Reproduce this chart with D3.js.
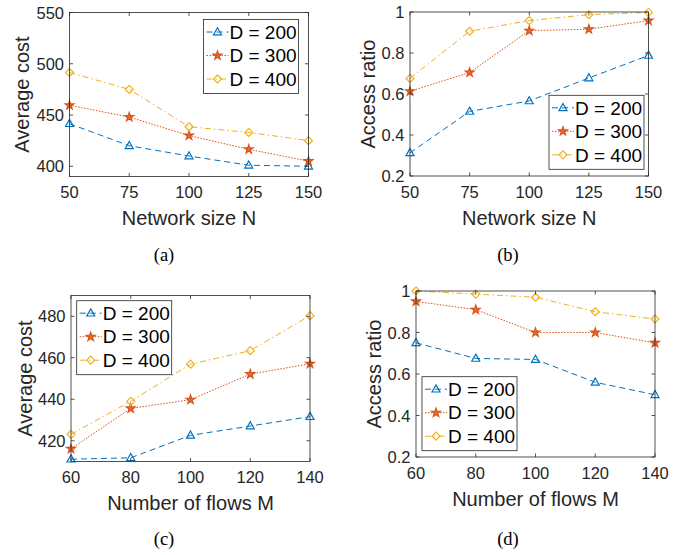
<!DOCTYPE html>
<html>
<head>
<meta charset="utf-8">
<script src="https://cdn.jsdelivr.net/npm/d3@7"></script>
<style>
  body { margin: 0; background: #fff; }
  svg { display: block; }
  .tick-label { font-family: "Liberation Sans", Arial, sans-serif; font-size: 16.5px; fill: #262626; }
  .axis-label { font-family: "Liberation Sans", Arial, sans-serif; font-size: 20px; fill: #262626; }
  .legend-text { font-family: "Liberation Sans", Arial, sans-serif; font-size: 19px; fill: #000; }
  .caption { font-family: "Liberation Serif", "Times New Roman", serif; font-size: 18.5px; fill: #000; }
</style>
</head>
<body>
<svg id="chart" width="686" height="555"></svg>
<script>
// ---- data ----
const networkSizes = [50, 75, 100, 125, 150];
const flowCounts = [60, 80, 100, 120, 140];
const seriesNames = ['D = 200', 'D = 300', 'D = 400'];

// (a) average cost vs network size
const costN_D200 = [441.5, 420, 410, 401, 400];
const costN_D300 = [459.5, 448, 430, 416.5, 405];
const costN_D400 = [491.5, 475, 438.5, 433, 425];

// (b) access ratio vs network size
const ratioN_D200 = [0.313, 0.515, 0.566, 0.678, 0.788];
const ratioN_D300 = [0.613, 0.705, 0.909, 0.916, 0.958];
const ratioN_D400 = [0.676, 0.906, 0.958, 0.987, 0.998];

// (c) average cost vs number of flows
const costM_D200 = [411.1, 411.8, 422.6, 427.1, 431.6];
const costM_D300 = [416.1, 435.6, 439.8, 452.1, 457.1];
const costM_D400 = [423.1, 439.0, 456.9, 463.4, 480.3];

// (d) access ratio vs number of flows
const ratioM_D200 = [0.75, 0.675, 0.67, 0.56, 0.50];
const ratioM_D300 = [0.95, 0.91, 0.80, 0.80, 0.75];
const ratioM_D400 = [1.0, 0.985, 0.97, 0.90, 0.865];

const costTicksN = [400, 450, 500, 550];
const costTicksM = [420, 440, 460, 480];
const ratioTicks = [0.2, 0.4, 0.6, 0.8, 1];

// MATLAB default colours and line styles
const colors = ['#0072BD', '#D95319', '#EDB120'];
const dashes = ['6,4', '1.5,1.5', '6,3,1.5,3'];
const markers = ['triangle', 'star', 'diamond'];

const panels = [
  { box: [69.5, 12.5, 308.5, 176.5], x: networkSizes, xDomain: [50, 150], yDomain: [390, 550],
    yTicks: costTicksN, yFmt: d3.format('d'), series: [costN_D200, costN_D300, costN_D400],
    xLabel: 'Network size N', yLabel: 'Average cost', yLabelOff: 48,
    legend: { corner: 'ne', dx: 10, dy: 7 }, caption: '(a)', capX: 164, capY: 261 },
  { box: [410, 12, 648.5, 176], x: networkSizes, xDomain: [50, 150], yDomain: [0.2, 1],
    yTicks: ratioTicks, yFmt: d => d === 1 ? '1' : d3.format('.1f')(d), series: [ratioN_D200, ratioN_D300, ratioN_D400],
    xLabel: 'Network size N', yLabel: 'Access ratio', yLabelOff: 42.5,
    legend: { corner: 'se', dx: 4.5, dy: 6.7 }, caption: '(b)', capX: 508, capY: 261 },
  { box: [71, 295.5, 310, 461.5], x: flowCounts, xDomain: [60, 140], yDomain: [410, 490],
    yTicks: costTicksM, yFmt: d3.format('d'), series: [costM_D200, costM_D300, costM_D400],
    xLabel: 'Number of flows M', yLabel: 'Average cost', yLabelOff: 46,
    legend: { corner: 'nw', dx: 5.7, dy: 5.2 }, caption: '(c)', capX: 164, capY: 545 },
  { box: [416, 291, 655, 457], x: flowCounts, xDomain: [60, 140], yDomain: [0.2, 1],
    yTicks: ratioTicks, yFmt: d => d === 1 ? '1' : d3.format('.1f')(d), series: [ratioM_D200, ratioM_D300, ratioM_D400],
    xLabel: 'Number of flows M', yLabel: 'Access ratio', yLabelOff: 42.5,
    legend: { corner: 'sw', dx: 6, dy: 6.3 }, caption: '(d)', capX: 508, capY: 545 }
];

const svg = d3.select('#chart');
const AXIS = '#262626';
const TICK = 3.5;

function markerPath(type) {
  if (type === 'triangle') return 'M0,-4.3L4,2.8L-4,2.8Z';
  if (type === 'diamond') return 'M0,-4L4,0L0,4L-4,0Z';
  return d3.symbol(d3.symbolStar, 24)();
}

function drawMarker(g, type, color) {
  const p = g.append('path').attr('d', markerPath(type))
    .attr('stroke', color).attr('stroke-width', 1.2);
  if (type === 'star') p.attr('fill', color).attr('fill-opacity', 0.8);
  else p.attr('fill', 'none');
  return p;
}

panels.forEach(p => {
  const [x0, y0, x1, y1] = p.box;
  const x = d3.scaleLinear().domain(p.xDomain).range([x0, x1]);
  const y = d3.scaleLinear().domain(p.yDomain).range([y1, y0]);
  const g = svg.append('g');

  // series lines + markers
  p.series.forEach((vals, i) => {
    const pts = vals.map((v, j) => [x(p.x[j]), y(v)]);
    g.append('path')
      .attr('d', d3.line()(pts))
      .attr('fill', 'none')
      .attr('stroke', colors[i])
      .attr('stroke-width', 1)
      .attr('stroke-dasharray', dashes[i]);
    pts.forEach(pt => {
      const m = g.append('g').attr('transform', `translate(${pt[0]},${pt[1]})`);
      drawMarker(m, markers[i], colors[i]);
    });
  });

  // box
  g.append('rect')
    .attr('x', x0).attr('y', y0).attr('width', x1 - x0).attr('height', y1 - y0)
    .attr('fill', 'none').attr('stroke', AXIS).attr('stroke-width', 0.8);

  // x ticks (inside, bottom and top)
  p.x.forEach(v => {
    const xx = x(v);
    g.append('line').attr('x1', xx).attr('x2', xx).attr('y1', y1).attr('y2', y1 - TICK)
      .attr('stroke', AXIS).attr('stroke-width', 0.8);
    g.append('line').attr('x1', xx).attr('x2', xx).attr('y1', y0).attr('y2', y0 + TICK)
      .attr('stroke', AXIS).attr('stroke-width', 0.8);
    g.append('text').attr('class', 'tick-label')
      .attr('x', xx).attr('y', y1 + 21.5).attr('text-anchor', 'middle')
      .text(v);
  });

  // y ticks (inside, left and right)
  p.yTicks.forEach(v => {
    const yy = y(v);
    g.append('line').attr('x1', x0).attr('x2', x0 + TICK).attr('y1', yy).attr('y2', yy)
      .attr('stroke', AXIS).attr('stroke-width', 0.8);
    g.append('line').attr('x1', x1).attr('x2', x1 - TICK).attr('y1', yy).attr('y2', yy)
      .attr('stroke', AXIS).attr('stroke-width', 0.8);
    g.append('text').attr('class', 'tick-label')
      .attr('x', x0 - 5.5).attr('y', yy + 6).attr('text-anchor', 'end')
      .text(p.yFmt(v));
  });

  // axis labels
  g.append('text').attr('class', 'axis-label')
    .attr('x', (x0 + x1) / 2).attr('y', y1 + 48.5).attr('text-anchor', 'middle')
    .text(p.xLabel);
  g.append('text').attr('class', 'axis-label')
    .attr('transform', `translate(${x0 - p.yLabelOff + 7},${(y0 + y1) / 2}) rotate(-90)`)
    .attr('text-anchor', 'middle')
    .text(p.yLabel);

  // legend
  const lw = 95, lh = 74;
  const c = p.legend.corner;
  const lx = c.includes('e') ? x1 - p.legend.dx - lw : x0 + p.legend.dx;
  const ly = c.includes('n') ? y0 + p.legend.dy : y1 - p.legend.dy - lh;
  const lg = g.append('g').attr('transform', `translate(${lx},${ly})`);
  lg.append('rect').attr('width', lw).attr('height', lh)
    .attr('fill', '#fff').attr('stroke', AXIS).attr('stroke-width', 0.8);
  seriesNames.forEach((name, i) => {
    const ry = 12.5 + i * 23.5;
    lg.append('line').attr('x1', 3).attr('x2', 25).attr('y1', ry).attr('y2', ry)
      .attr('stroke', colors[i]).attr('stroke-width', 1).attr('stroke-dasharray', dashes[i]);
    const m = lg.append('g').attr('transform', `translate(14,${ry})`);
    drawMarker(m, markers[i], colors[i]);
    lg.append('text').attr('class', 'legend-text')
      .attr('x', 26).attr('y', ry + 6.8).text(name);
  });

  // caption
  svg.append('text').attr('class', 'caption')
    .attr('x', p.capX).attr('y', p.capY).attr('text-anchor', 'middle')
    .text(p.caption);
});
</script>
</body>
</html>
